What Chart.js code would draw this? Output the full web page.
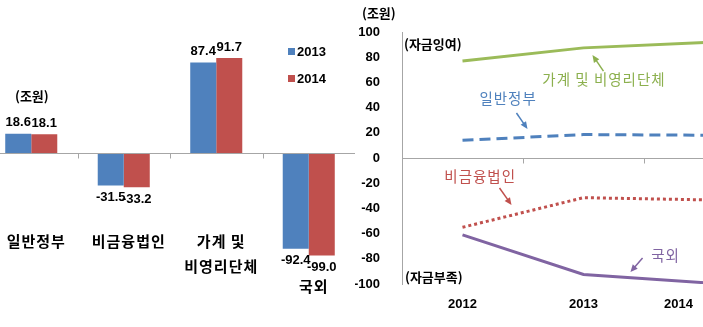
<!DOCTYPE html>
<html>
<head>
<meta charset="utf-8">
<script src="https://cdn.jsdelivr.net/npm/chart.js@4"></script>
<style>
  html, body { margin: 0; padding: 0; background: #fff; }
  body { width: 703px; height: 327px; position: relative; overflow: hidden; }
  #barBox { position: absolute; left: -15px; top: 0; }
  #lineBox { position: absolute; left: 355px; top: 0; }
</style>
</head>
<body>
<div id="barBox"><canvas id="barChart" width="370" height="327"></canvas></div>
<div id="lineBox"><canvas id="lineChart" width="410" height="327"></canvas></div>
<script>
// left: sector balances, 2013 vs 2014 (trillion won)
const sectors = [['일반정부'], ['비금융법인'], ['가계 및', '비영리단체'], ['국외']];
const seriesNames = ['2013', '2014'];
const values2013 = [18.6, -31.5, 87.4, -92.4];
const values2014 = [18.1, -33.2, 91.7, -99.0];

// right: trend 2012-2014
const years = ['2012', '2013', '2014'];
const household = [77, 87.4, 91.7];
const government = [14, 18.6, 18.1];
const corporate = [-55, -31.5, -33.2];
const foreign = [-61, -92.4, -99.0];
const yTicks = [100, 80, 60, 40, 20, 0, -20, -40, -60, -80, -100];

const BLUE = '#4F81BD', RED = '#C0504D', GREEN = '#9BBB59', PURPLE = '#8064A2';
const NUM_FONT = '"Liberation Sans", Arial, sans-serif';
const KR_FONT = '"Noto Sans CJK KR", "Noto Sans", sans-serif';

function arrow(ctx, x1, y1, x2, y2, color) {
    const a = Math.atan2(y2 - y1, x2 - x1), h = 8;
    ctx.strokeStyle = color;
    ctx.fillStyle = color;
    ctx.lineWidth = 1.5;
    ctx.beginPath();
    ctx.moveTo(x1, y1);
    ctx.lineTo(x2 - Math.cos(a) * h * 0.7, y2 - Math.sin(a) * h * 0.7);
    ctx.stroke();
    ctx.beginPath();
    ctx.moveTo(x2, y2);
    ctx.lineTo(x2 - h * Math.cos(a - 0.42), y2 - h * Math.sin(a - 0.42));
    ctx.lineTo(x2 - h * Math.cos(a + 0.42), y2 - h * Math.sin(a + 0.42));
    ctx.closePath();
    ctx.fill();
}

// zero line, value labels, category labels, legend
const barDecor = {
    id: 'barDecor',
    afterDraw(chart) {
        const { ctx, chartArea, scales: { x, y } } = chart;
        const zero = Math.round(y.getPixelForValue(0)) + 0.5;
        ctx.save();
        ctx.strokeStyle = '#A6A6A6';
        ctx.lineWidth = 1;
        ctx.beginPath();
        ctx.moveTo(chartArea.left, zero);
        ctx.lineTo(chartArea.right, zero);
        for (let i = 1; i < sectors.length; i++) {
            const bx = Math.round((x.getPixelForValue(i - 1) + x.getPixelForValue(i)) / 2) + 0.5;
            ctx.moveTo(bx, zero);
            ctx.lineTo(bx, zero + 5);
        }
        ctx.stroke();

        ctx.fillStyle = '#000';
        ctx.textAlign = 'center';
        ctx.textBaseline = 'middle';
        ctx.font = 'bold 13px ' + NUM_FONT;
        chart.data.datasets.forEach((ds, di) => {
            chart.getDatasetMeta(di).data.forEach((bar, i) => {
                const v = ds.data[i];
                ctx.fillText(v.toFixed(1), bar.x, v >= 0 ? bar.y - 11 : bar.y + 12);
            });
        });

        ctx.font = 'bold 15px ' + KR_FONT;
        ctx.letterSpacing = '1px';
        sectors.forEach((lines, i) => {
            const low = Math.min(0, values2013[i], values2014[i]);
            const ty = Math.max(zero + 88, y.getPixelForValue(low) + 31);
            lines.forEach((ln, k) => ctx.fillText(ln, x.getPixelForValue(i) + 5, ty + k * 25));
        });
        ctx.letterSpacing = '0px';

        // unit
        ctx.textAlign = 'left';
        ctx.font = 'bold 13px ' + KR_FONT;
        ctx.fillText('(조원)', 30, 96);

        // legend
        ctx.font = 'bold 13px ' + NUM_FONT;
        chart.data.datasets.forEach((ds, di) => {
            const ly = 51 + di * 27;
            ctx.fillStyle = ds.backgroundColor;
            ctx.fillRect(303, ly - 3, 7, 7);
            ctx.fillStyle = '#000';
            ctx.fillText(ds.label, 312, ly + 1);
        });
        ctx.restore();
    }
};

new Chart(document.getElementById('barChart'), {
    type: 'bar',
    data: {
        labels: sectors.map(s => s.join(' ')),
        datasets: [
            { label: seriesNames[0], data: values2013, backgroundColor: BLUE },
            { label: seriesNames[1], data: values2014, backgroundColor: RED }
        ]
    },
    options: {
        responsive: false,
        animation: false,
        layout: { padding: { top: 28.8, bottom: 49.8, left: 0, right: 0 } },
        plugins: { legend: { display: false }, tooltip: { enabled: false } },
        datasets: { bar: { categoryPercentage: 0.5625, barPercentage: 1.0 } },
        scales: {
            x: { display: false },
            y: { display: false, min: -120, max: 120 }
        }
    },
    plugins: [barDecor]
});

// annotations in data space: [text, colour, x index, y value]
const notes = [
    ['가계 및 비영리단체', '#8CB04E', 0.66, 62],
    ['일반정부', BLUE, 0.14, 47.6],
    ['비금융법인', RED, -0.15, -15],
    ['국외', PURPLE, 1.56, -77.5]
];
// arrows: [colour, from x, from y, to x, to y]
const arrows = [
    ['#8CB04E', 1.165, 69, 1.074, 81.7],
    [BLUE, 0.446, 35.7, 0.537, 23],
    [RED, 0.306, -23.8, 0.405, -37.3],
    [PURPLE, 1.488, -79.4, 1.388, -90.5]
];

const lineDecor = {
    id: 'lineDecor',
    afterDraw(chart) {
        const { ctx, chartArea, scales: { x, y } } = chart;
        const zero = Math.round(y.getPixelForValue(0)) + 0.5;
        const visibleW = 703 - 355;
        ctx.save();
        ctx.strokeStyle = '#A6A6A6';
        ctx.lineWidth = 1;
        ctx.beginPath();
        ctx.moveTo(chartArea.left, zero);
        ctx.lineTo(chartArea.right, zero);
        for (let i = 1; i < years.length; i++) {
            const bx = Math.round((x.getPixelForValue(i - 1) + x.getPixelForValue(i)) / 2) + 0.5;
            ctx.moveTo(bx, zero);
            ctx.lineTo(bx, zero + 5);
        }
        ctx.stroke();

        ctx.fillStyle = '#000';
        ctx.textBaseline = 'middle';
        ctx.textAlign = 'center';
        ctx.font = 'bold 13px ' + NUM_FONT;
        years.forEach((yr, i) => {
            const w = ctx.measureText(yr).width;
            const tx = Math.min(x.getPixelForValue(i), visibleW - 10 - w / 2);
            ctx.fillText(yr, tx, 304);
        });

        ctx.textAlign = 'left';
        ctx.font = 'bold 13px ' + KR_FONT;
        ctx.fillText('(조원)', 7, 13);
        ctx.fillText('(자금잉여)', chartArea.left + 2, y.getPixelForValue(90.5));
        ctx.fillText('(자금부족)', chartArea.left + 3, y.getPixelForValue(-94.4));

        ctx.font = '14.5px ' + KR_FONT;
        ctx.letterSpacing = '1px';
        notes.forEach(([t, c, xi, yv]) => {
            ctx.fillStyle = c;
            ctx.fillText(t, x.getPixelForValue(xi), y.getPixelForValue(yv));
        });
        ctx.letterSpacing = '0px';

        arrows.forEach(([c, x1, y1, x2, y2]) => {
            arrow(ctx, x.getPixelForValue(x1), y.getPixelForValue(y1),
                  x.getPixelForValue(x2), y.getPixelForValue(y2), c);
        });
        ctx.restore();
    }
};

new Chart(document.getElementById('lineChart'), {
    type: 'line',
    data: {
        labels: years,
        datasets: [
            { label: '가계 및 비영리단체', data: household, borderColor: GREEN, borderWidth: 3 },
            { label: '일반정부', data: government, borderColor: BLUE, borderWidth: 3, borderDash: [11, 6] },
            { label: '비금융법인', data: corporate, borderColor: RED, borderWidth: 3, borderDash: [3, 3] },
            { label: '국외', data: foreign, borderColor: PURPLE, borderWidth: 3 }
        ]
    },
    options: {
        responsive: false,
        animation: false,
        layout: { padding: { top: 32, bottom: 43, left: 0, right: 0 } },
        elements: { point: { radius: 0 }, line: { tension: 0 } },
        plugins: { legend: { display: false }, tooltip: { enabled: false } },
        scales: {
            x: { type: 'category', offset: true, display: false },
            y: {
                min: -100, max: 100,
                afterBuildTicks: s => { s.ticks = yTicks.map(v => ({ value: v })); },
                afterFit: s => { s.width = 47; },
                ticks: { padding: 14, color: '#000', font: { family: NUM_FONT, size: 13, weight: 'bold' } },
                grid: { display: false },
                border: { display: true, color: '#A6A6A6', width: 1 }
            }
        }
    },
    plugins: [lineDecor]
});
</script>
</body>
</html>
